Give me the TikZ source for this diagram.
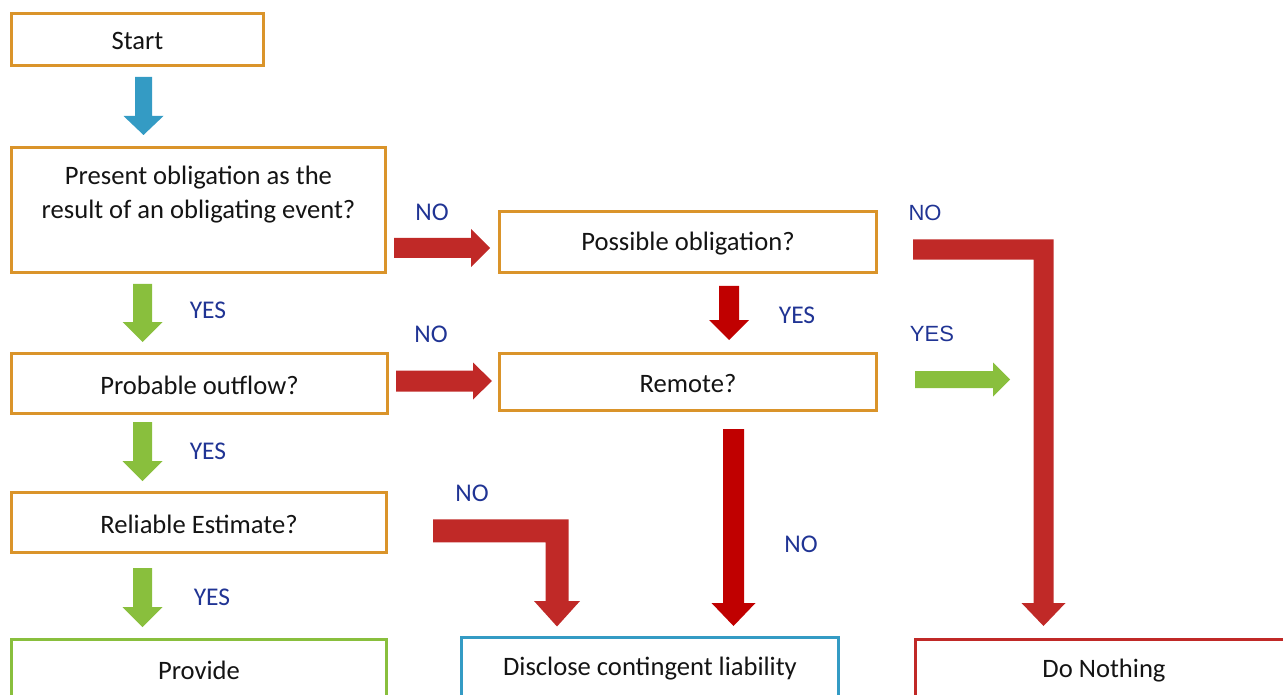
\documentclass[tikz,border=0pt]{standalone}
\usepackage{fontspec}
\setmainfont{Carlito}
\newfontfamily\arialf{Liberation Sans}
\definecolor{boxorange}{RGB}{218,148,42}
\definecolor{arrblue}{RGB}{52,155,196}
\definecolor{arrgreen}{RGB}{137,191,61}
\definecolor{arrred}{RGB}{192,41,39}
\definecolor{arrdark}{RGB}{192,0,0}
\definecolor{lblblue}{RGB}{32,52,148}
\definecolor{txtblack}{RGB}{20,20,20}
\newcommand\blkdown[7]{\fill[#7] ({#1-#4},#2) -- ({#1+#4},#2) -- ({#1+#4},{#3-#6}) -- ({#1+#5},{#3-#6}) -- (#1,#3) -- ({#1-#5},{#3-#6}) -- ({#1-#4},{#3-#6}) -- cycle;}
\newcommand\blkright[7]{\fill[#7] (#2,{#1-#4}) -- ({#3-#6},{#1-#4}) -- ({#3-#6},{#1-#5}) -- (#3,#1) -- ({#3-#6},{#1+#5}) -- ({#3-#6},{#1+#4}) -- (#2,{#1+#4}) -- cycle;}
\tikzset{
  flowbox/.style={draw=#1, line width=3pt, inner sep=0pt, fill=white},
  flowbox/.default=boxorange,
  boxtext/.style={text=txtblack, font=\fontsize{26.6}{34}\selectfont, align=center, inner sep=0pt, yshift=-1.5pt},
  lbl/.style={text=lblblue, font=\fontsize{25.5}{30}\selectfont, inner sep=0pt},
  albl/.style={text=lblblue, font=\arialf\fontsize{22}{26}\selectfont, inner sep=0pt},
}
\begin{document}
\begin{tikzpicture}[x=1pt,y=-1pt]
\useasboundingbox (0,0) rectangle (1283,695);
\clip (0,0) rectangle (1283,695);
% boxes
\node[flowbox, minimum width=252pt, minimum height=52pt] (start) at (137.5,39.5) {};
\node[boxtext] (startT) at (start.center) {Start};
\node[flowbox, minimum width=374pt, minimum height=125pt] (present) at (198.5,210) {};
\node[boxtext] (presentT) at (198.5,193) {Present obligation as the\\result of an obligating event?};
\node[flowbox, minimum width=376pt, minimum height=60pt] (probable) at (199.5,383.5) {};
\node[boxtext] (probableT) at (probable.center) {Probable outflow?};
\node[flowbox, minimum width=375pt, minimum height=60pt] (reliable) at (199,522.5) {};
\node[boxtext] (reliableT) at (reliable.center) {Reliable Estimate?};
\node[flowbox=arrgreen, minimum width=375pt, minimum height=90pt] (provide) at (199,684.5) {};
\node[boxtext] (provideT) at (199,669) {Provide};
\node[flowbox, minimum width=377pt, minimum height=61pt] (possible) at (688,242) {};
\node[boxtext] (possibleT) at (possible.center) {Possible obligation?};
\node[flowbox, minimum width=377pt, minimum height=57pt] (remote) at (688,382) {};
\node[boxtext] (remoteT) at (remote.center) {Remote?};
\node[flowbox=arrblue, minimum width=377pt, minimum height=90pt] (disclose) at (650,682.5) {};
\node[boxtext] (discloseT) at (650,667) {Disclose contingent liability};
\node[flowbox=arrred, minimum width=377pt, minimum height=90pt] (nothing) at (1104,684.5) {};
\node[boxtext] (nothingT) at (1104,669) {Do Nothing};
% arrows
\blkdown{143.5}{77}{135}{8.5}{20}{19}{arrblue}
\blkdown{142.5}{284}{342}{9.5}{20}{20}{arrgreen}
\blkdown{142.5}{422}{481}{9.5}{20}{20}{arrgreen}
\blkdown{142.5}{568}{627}{9.5}{20}{20}{arrgreen}
\blkright{248}{394}{490}{10}{19}{19}{arrred}
\blkright{381}{396}{492}{10.5}{18.5}{19}{arrred}
\blkdown{729}{286}{340}{10}{20}{20}{arrdark}
\blkright{379.5}{915}{1010}{8.5}{17}{17}{arrgreen}
\blkdown{733.5}{429}{626}{10.5}{22}{23}{arrdark}
\fill[arrred] (913,239.5) -- (1053.5,239.5) -- (1053.5,603) -- (1065.5,603) -- (1043.5,626) -- (1021.5,603) -- (1033.5,603) -- (1033.5,259.7) -- (913,259.7) -- cycle;
\fill[arrred] (433,519.3) -- (568.6,519.3) -- (568.6,601) -- (580,601) -- (557,626.5) -- (534,601) -- (545.5,601) -- (545.5,542.3) -- (433,542.3) -- cycle;
% labels
\node[lbl] (y1) at (208,310) {YES};
\node[lbl] (y2) at (208,451) {YES};
\node[lbl] (y3) at (212,597) {YES};
\node[lbl] (n1) at (432,212) {NO};
\node[lbl] (n2) at (431,334) {NO};
\node[lbl] (n3) at (472,493) {NO};
\node[lbl] (n4) at (801,544) {NO};
\node[lbl] (y4) at (797,315) {YES};
\node[albl] (n5) at (925,213) {NO};
\node[albl] (y5) at (932,334) {YES};
\end{tikzpicture}
\end{document}
